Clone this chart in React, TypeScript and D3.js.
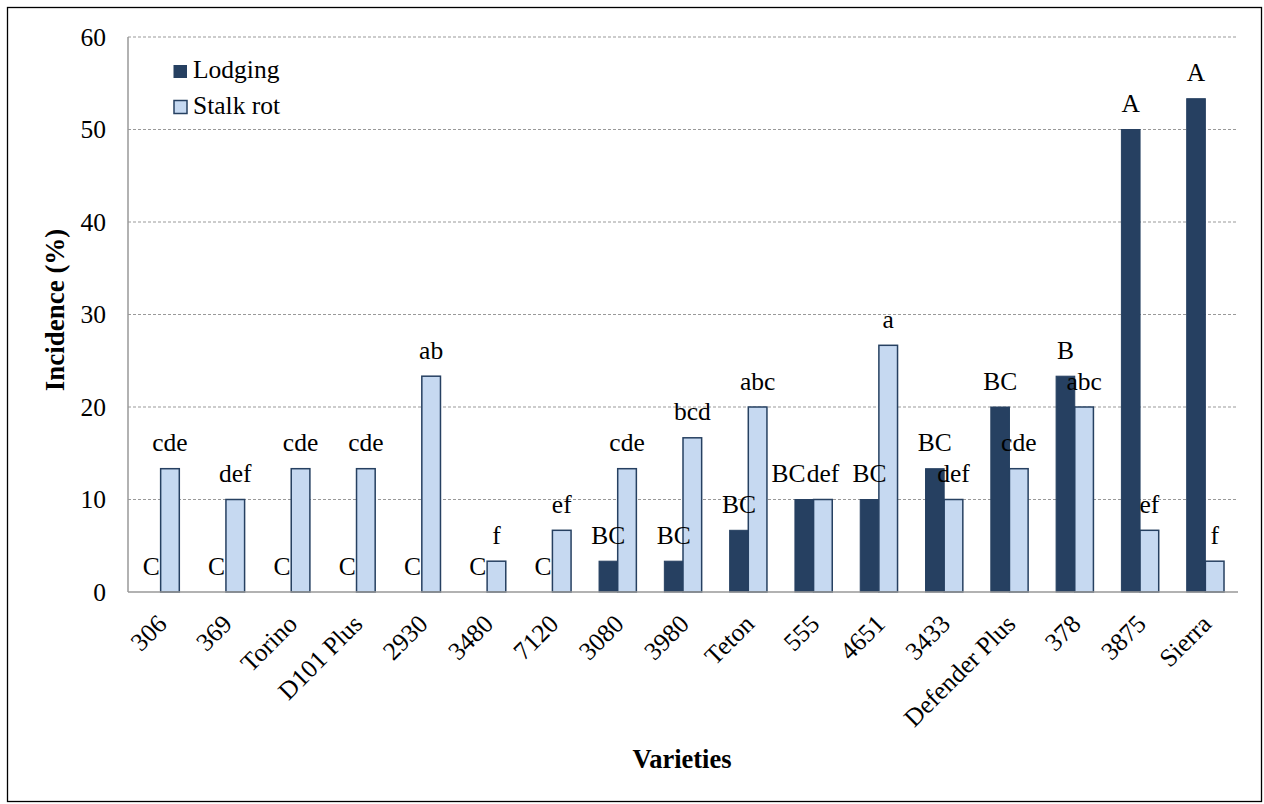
import React from "react";
import * as d3 from "d3";

const varieties = ["306", "369", "Torino", "D101 Plus", "2930", "3480", "7120", "3080", "3980", "Teton", "555", "4651", "3433", "Defender Plus", "378", "3875", "Sierra"];
const lodging = [0, 0, 0, 0, 0, 0, 0, 3.33, 3.33, 6.67, 10, 10, 13.33, 20, 23.33, 50, 53.33];
const stalkRot = [13.33, 10, 13.33, 13.33, 23.33, 3.33, 6.67, 13.33, 16.67, 20, 10, 26.67, 10, 13.33, 20, 6.67, 3.33];
const lodgingLetters = ["C", "C", "C", "C", "C", "C", "C", "BC", "BC", "BC", "BC", "BC", "BC", "BC", "B", "A", "A"];
const stalkLetters = ["cde", "def", "cde", "cde", "ab", "f", "ef", "cde", "bcd", "abc", "def", "a", "def", "cde", "abc", "ef", "f"];
const yTicks = [0, 10, 20, 30, 40, 50, 60];

const W = 1264, H = 804;
const left = 128, right = 1238, top = 37, bottom = 592;
const FONT = "Liberation Serif, Times New Roman, Times, serif";
const DARK = "#264061";
const LIGHT = "#C6D9F1";
const FS = 25.5;
const LABEL_GAP = 17.5;

let ctx: CanvasRenderingContext2D | null = null;
function textWidth(s: string): number {
  if (!ctx) {
    const c = document.createElement("canvas");
    ctx = c.getContext("2d");
  }
  if (!ctx) return s.length * FS * 0.5;
  ctx.font = `${FS}px ${FONT}`;
  return ctx.measureText(s).width;
}

export default function App() {
  const x = d3.scaleBand<string>().domain(varieties).range([left, right]);
  const y = d3.scaleLinear().domain([0, 60]).range([bottom, top]);
  const bw = x.bandwidth() / 3.5;
  const ts: React.CSSProperties = { fontFamily: FONT };
  return (
    <svg width={W} height={H} style={{ position: "absolute", left: 0, top: 0, background: "#fff", fontFamily: FONT }}>
      <rect x={7.5} y={7.5} width={1254} height={794} fill="#fff" stroke="#000" strokeWidth={1.3} />
      {yTicks.filter(t => t > 0).map(t => (
        <line key={t} x1={left} x2={right} y1={y(t)} y2={y(t)} stroke="#999" strokeDasharray="3,2" strokeWidth={1} />
      ))}
      <line x1={left} x2={left} y1={top} y2={bottom} stroke="#999" strokeWidth={1.5} />
      {yTicks.map(t => (
        <text key={t} style={ts} x={left - 22} y={y(t)} dy="0.35em" textAnchor="end" fontSize={FS}>{t}</text>
      ))}
      {varieties.map((v, i) => {
        const cx = (x(v) as number) + x.bandwidth() / 2;
        const yl = y(lodging[i]);
        const ys = y(stalkRot[i]);
        // label positions, with collision avoidance between the two labels of a category
        const lw = textWidth(lodgingLetters[i]);
        const sw = textWidth(stalkLetters[i]);
        let lx = cx - bw / 2;
        const sx = cx + bw / 2;
        const collide = Math.abs(yl - ys) < FS * 0.8 && lx + lw / 2 > sx - sw / 2;
        if (collide) lx = sx - sw / 2 - lw / 2 - 1;
        return (
          <g key={v}>
            <rect x={cx - bw} y={yl} width={bw} height={bottom - yl} fill={DARK} stroke={DARK} strokeWidth={1} />
            <rect x={cx} y={ys} width={bw} height={bottom - ys} fill={LIGHT} stroke={DARK} strokeWidth={1.5} />
            <text style={ts} x={lx} y={yl - LABEL_GAP} textAnchor="middle" fontSize={FS}>{lodgingLetters[i]}</text>
            <text style={ts} x={sx} y={ys - LABEL_GAP} textAnchor="middle" fontSize={FS}>{stalkLetters[i]}</text>
            <text style={ts} transform={`translate(${cx - 6},${612}) rotate(-45)`} textAnchor="end" dy="0.75em" fontSize={FS}>{v}</text>
          </g>
        );
      })}
      <line x1={left} x2={right} y1={bottom} y2={bottom} stroke="#999" strokeWidth={1.5} />
      <text style={ts} transform={`translate(64,310) rotate(-90)`} textAnchor="middle" fontSize={27} fontWeight="bold">Incidence (%)</text>
      <text style={ts} x={682} y={768} textAnchor="middle" fontSize={26.5} fontWeight="bold">Varieties</text>
      <rect x={173.5} y={65} width={13.5} height={13} fill={DARK} />
      <text style={ts} x={193} y={78} fontSize={FS}>Lodging</text>
      <rect x={174} y={100.5} width={13} height={13} fill={LIGHT} stroke={DARK} strokeWidth={1.5} />
      <text style={ts} x={193} y={114} fontSize={FS}>Stalk rot</text>
    </svg>
  );
}
